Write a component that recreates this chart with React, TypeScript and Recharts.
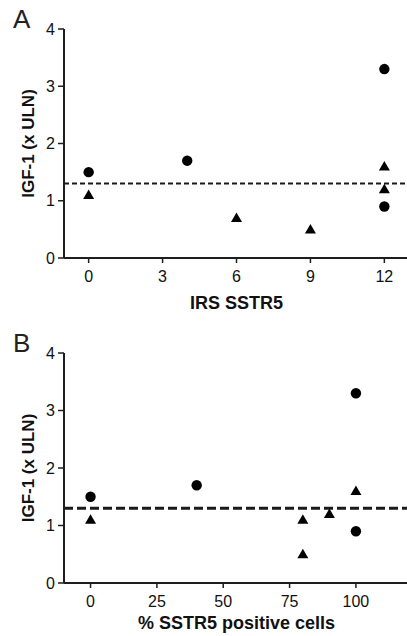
import React from 'react';
import { ScatterChart, Scatter, XAxis, YAxis, ReferenceLine } from 'recharts';

// Panel A: IRS SSTR5
const irsTicks = [0, 3, 6, 9, 12];
const irsCircleX = [0, 4, 12, 12];
const irsCircleY = [1.5, 1.7, 3.3, 0.9];
const irsTriangleX = [0, 6, 9, 12, 12];
const irsTriangleY = [1.1, 0.7, 0.5, 1.6, 1.2];

// Panel B: % SSTR5 positive cells
const posTicks = [0, 25, 50, 75, 100];
const posCircleX = [0, 40, 100, 100];
const posCircleY = [1.5, 1.7, 3.3, 0.9];
const posTriangleX = [0, 80, 80, 90, 100];
const posTriangleY = [1.1, 1.1, 0.5, 1.2, 1.6];

const yTicks = [0, 1, 2, 3, 4];
const ulnLine = 1.3;

const FONT = '"Liberation Sans", Arial, sans-serif';
const AXIS = '#1e1e1e';

const zip = (xs: number[], ys: number[]) => xs.map((x, i) => ({ x, y: ys[i] }));

const CircleMark = (props: any) => {
  const { cx, cy } = props;
  if (cx == null || cy == null) return null;
  return <circle cx={cx} cy={cy} r={5.2} fill="#000" />;
};

const TriangleMark = (props: any) => {
  const { cx, cy } = props;
  if (cx == null || cy == null) return null;
  const hw = 5.5;
  const up = 5.5;
  const down = 4;
  return <path d={`M${cx},${cy - up}L${cx + hw},${cy + down}L${cx - hw},${cy + down}Z`} fill="#000" />;
};

type PanelProps = {
  letter: string;
  xLabel: string;
  ticks: number[];
  domain: [number, number];
  circles: { x: number; y: number }[];
  triangles: { x: number; y: number }[];
  top: number;
  height: number;
  marginTop: number;
  xAxisHeight: number;
  dash: string;
  dashWidth: number;
};

function Panel(p: PanelProps) {
  return (
    <div style={{ position: 'absolute', left: 0, top: p.top, width: 409, height: p.height }}>
      <div
        style={{
          position: 'absolute',
          left: 13,
          top: p.marginTop - 23,
          fontFamily: FONT,
          fontSize: 26,
          lineHeight: '26px',
          color: '#222',
        }}
      >
        {p.letter}
      </div>
      <ScatterChart
        width={409}
        height={p.height}
        margin={{ top: p.marginTop, right: 0, bottom: 0, left: 0 }}
        style={{ fontFamily: FONT }}
      >
        <XAxis
          type="number"
          dataKey="x"
          domain={p.domain}
          ticks={p.ticks}
          allowDataOverflow
          height={p.xAxisHeight}
          tickSize={5}
          tickMargin={8}
          axisLine={{ stroke: AXIS, strokeWidth: 2 }}
          tickLine={{ stroke: AXIS, strokeWidth: 1.5 }}
          tick={{ fill: '#111', fontSize: 16, fontFamily: FONT }}
          label={{
            value: p.xLabel,
            position: 'insideBottom',
            offset: 7,
            style: { fill: '#111', fontSize: 18, fontWeight: 'bold', fontFamily: FONT },
          }}
        />
        <YAxis
          type="number"
          dataKey="y"
          domain={[0, 4]}
          ticks={yTicks}
          width={64}
          tickSize={6}
          tickMargin={3}
          axisLine={{ stroke: AXIS, strokeWidth: 2 }}
          tickLine={{ stroke: AXIS, strokeWidth: 1.5 }}
          tick={{ fill: '#111', fontSize: 16, fontFamily: FONT }}
          label={{
            value: 'IGF-1 (x ULN)',
            angle: -90,
            position: 'insideLeft',
            offset: 28,
            style: { textAnchor: 'middle', fill: '#111', fontSize: 17, fontWeight: 'bold', fontFamily: FONT },
          }}
        />
        <ReferenceLine y={ulnLine} stroke="#1a1a1a" strokeWidth={p.dashWidth} strokeDasharray={p.dash} />
        <Scatter data={p.circles} fill="#000" shape={CircleMark} legendType="none" isAnimationActive={false} />
        <Scatter data={p.triangles} fill="#000" shape={TriangleMark} legendType="none" isAnimationActive={false} />
      </ScatterChart>
    </div>
  );
}

export default function App() {
  return (
    <div style={{ position: 'absolute', left: 0, top: 0, width: 407, height: 636, overflow: 'hidden', background: '#fff' }}>
      <Panel
        letter="A"
        xLabel="IRS SSTR5"
        ticks={irsTicks}
        domain={[-1, 13]}
        circles={zip(irsCircleX, irsCircleY)}
        triangles={zip(irsTriangleX, irsTriangleY)}
        top={0}
        height={316}
        marginTop={29}
        xAxisHeight={58}
        dash="5 3"
        dashWidth={2}
      />
      <Panel
        letter="B"
        xLabel="% SSTR5 positive cells"
        ticks={posTicks}
        domain={[-10, 120]}
        circles={zip(posCircleX, posCircleY)}
        triangles={zip(posTriangleX, posTriangleY)}
        top={310}
        height={326}
        marginTop={43}
        xAxisHeight={53}
        dash="9 4"
        dashWidth={3}
      />
    </div>
  );
}
